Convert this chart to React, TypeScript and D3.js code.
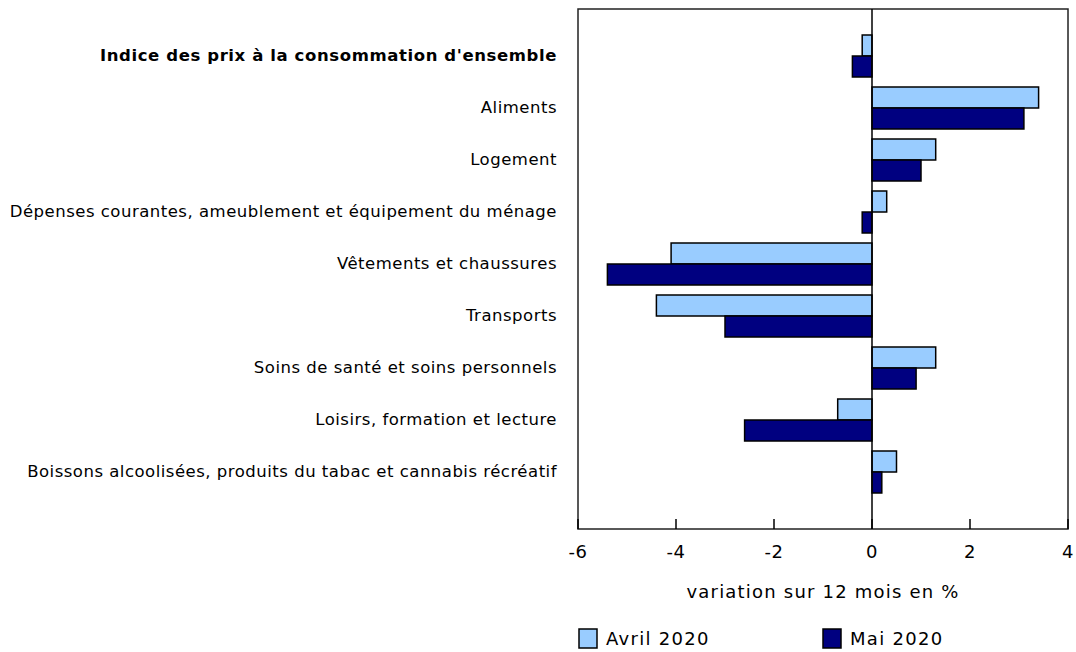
import React from 'react';
import * as d3 from 'd3';

const categories = [
  "Indice des prix à la consommation d'ensemble",
  'Aliments',
  'Logement',
  'Dépenses courantes, ameublement et équipement du ménage',
  'Vêtements et chaussures',
  'Transports',
  'Soins de santé et soins personnels',
  'Loisirs, formation et lecture',
  'Boissons alcoolisées, produits du tabac et cannabis récréatif',
];
const seriesNames = ['Avril 2020', 'Mai 2020'];
const avril2020 = [-0.2, 3.4, 1.3, 0.3, -4.1, -4.4, 1.3, -0.7, 0.5];
const mai2020 = [-0.4, 3.1, 1.0, -0.2, -5.4, -3.0, 0.9, -2.6, 0.2];
const xTicks = [-6, -4, -2, 0, 2, 4];
const colors = ['#99ccff', '#000080'];

const W = 1076;
const H = 652;
const plot = { left: 578, right: 1068, top: 9, bottom: 529 };
const font = 'Verdana, "DejaVu Sans", sans-serif';

export default function App() {
  const x = d3.scaleLinear().domain([-6, 4]).range([plot.left, plot.right]);
  const y = d3
    .scaleBand()
    .domain(categories)
    .range([30, 498])
    .paddingInner(10 / 52)
    .paddingOuter(5 / 52);
  const inner = d3.scaleBand().domain(seriesNames).range([0, y.bandwidth()]);
  const values = [avril2020, mai2020];

  return (
    <svg
      width={W}
      height={H}
      style={{ position: 'absolute', left: 0, top: 0, fontFamily: font }}
    >
      <rect x={0} y={0} width={W} height={H} fill="#fff" />
      {/* bars */}
      {categories.map((c, i) => (
        <g key={c}>
          {seriesNames.map((s, j) => {
            const v = values[j][i];
            const x0 = x(Math.min(0, v));
            const x1 = x(Math.max(0, v));
            return (
              <rect
                key={s}
                x={x0}
                y={(y(c) as number) + (inner(s) as number)}
                width={x1 - x0}
                height={inner.bandwidth()}
                fill={colors[j]}
                stroke="#000"
                strokeWidth={1.5}
              />
            );
          })}
          <text
            x={557}
            y={(y(c) as number) + y.bandwidth() / 2 - 1}
            dy="0.35em"
            textAnchor="end"
            fontSize={16.5}
            letterSpacing={i === 0 ? 0.6 : 0.5}
            fontWeight={i === 0 ? 'bold' : 'normal'}
            fill="#000"
          >
            {c}
          </text>
        </g>
      ))}
      {/* frame */}
      <rect
        x={plot.left}
        y={plot.top}
        width={plot.right - plot.left}
        height={plot.bottom - plot.top}
        fill="none"
        stroke="#222"
        strokeWidth={1.5}
      />
      <line x1={x(0)} x2={x(0)} y1={plot.top} y2={plot.bottom} stroke="#000" strokeWidth={1.5} />
      {/* ticks */}
      {xTicks.map((t) => (
        <g key={t}>
          <line
            x1={x(t)}
            x2={x(t)}
            y1={plot.bottom}
            y2={plot.bottom - 10}
            stroke="#000"
            strokeWidth={1.5}
          />
          <text x={x(t)} y={552} dy="0.35em" textAnchor="middle" fontSize={18} letterSpacing={0.5} fill="#000">
            {t}
          </text>
        </g>
      ))}
      <text x={x(-1)} y={592} dy="0.35em" textAnchor="middle" fontSize={18} letterSpacing={1.2} fill="#000">
        variation sur 12 mois en %
      </text>
      {/* legend */}
      {seriesNames.map((s, j) => {
        const lx = j === 0 ? 579 : 823;
        return (
          <g key={s}>
            <rect x={lx} y={629} width={18} height={19} fill={colors[j]} stroke="#000" strokeWidth={1.5} />
            <text x={lx + 27} y={639} dy="0.35em" fontSize={18} letterSpacing={1.3} fill="#000">
              {s}
            </text>
          </g>
        );
      })}
    </svg>
  );
}
